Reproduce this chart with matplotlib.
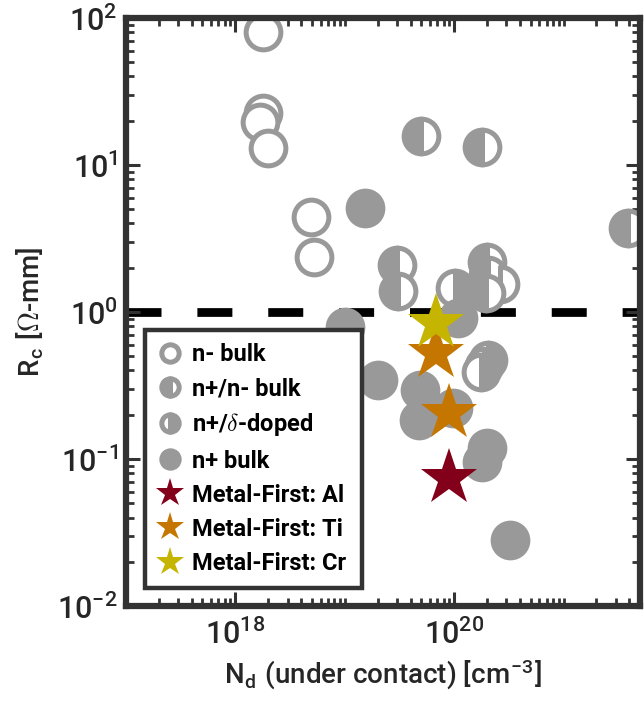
import numpy as np
import matplotlib
matplotlib.use('Agg')
import matplotlib.pyplot as plt
from matplotlib.ticker import FixedLocator, LogLocator, FuncFormatter, NullFormatter

# ---------------- data ----------------
nminus_nd = [1.80e18, 1.78e18, 1.68e18, 1.98e18, 4.95e18, 5.21e18]
nminus_rc = [79.8, 22.4, 19.7, 13.0, 4.42, 2.36]

nplus_nminus_nd = [4.98e19, 1.79e20, 3.86e21, 3.01e19, 3.06e19, 1.98e20, 2.02e20, 2.61e20, 1.95e20]
nplus_nminus_rc = [15.7, 13.2, 3.70, 2.08, 1.39, 2.19, 1.78, 1.55, 1.34]

delta_nd = [1.01e20, 2.05e20, 1.89e20, 1.75e20]
delta_rc = [1.45, 0.475, 0.43, 0.39]

nplus_nd = [1.53e19, 1.01e19, 2.00e19, 4.84e19, 4.75e19, 9.7e19, 1.98e20, 1.78e20, 3.21e20, 1.08e20]
nplus_rc = [5.07, 0.79, 0.343, 0.294, 0.183, 0.221, 0.118, 0.095, 0.028, 0.91]

al_nd = [8.9e19]
al_rc = [0.074]
ti_nd = [6.86e19, 8.9e19]
ti_rc = [0.524, 0.205]
cr_nd = [6.86e19]
cr_rc = [0.84]

threshold = 1.0
x_major = [1e18, 1e20]
labels = ['n- bulk', 'n+/n- bulk', r'n+/$\delta$-doped', 'n+ bulk',
          'Metal-First: Al', 'Metal-First: Ti', 'Metal-First: Cr']

# ---------------- style ----------------
plt.rcParams['font.family'] = ['Roboto', 'DejaVu Sans']
plt.rcParams['mathtext.fontset'] = 'cm'
frame_c = '#333333'
grey = '#999999'

fig = plt.figure(figsize=(6.44, 7.05), dpi=100)
ax = fig.add_axes([0.1957, 0.1404, 0.9938 - 0.1957, 0.9745 - 0.1404])
ax.set_xscale('log')
ax.set_yscale('log')
ax.set_xlim(1e17, 5e21)
ax.set_ylim(1e-2, 1e2)

ax.axhline(threshold, color='black', lw=6.3, dashes=(4.0, 4.1), solid_capstyle='butt',
           dash_capstyle='butt', zorder=1)

circ = dict(linestyle='none', marker='o', ms=25, mew=3.6, mec=grey, zorder=3)
ax.plot(nminus_nd, nminus_rc, mfc='white', label=labels[0], **circ)
ax.plot(nplus_nminus_nd, nplus_nminus_rc, mfc=grey, mfcalt='white', fillstyle='left',
        label=labels[1], **circ)
ax.plot(delta_nd, delta_rc, mfc=grey, mfcalt='white', fillstyle='right',
        label=labels[2], **circ)
ax.plot(nplus_nd, nplus_rc, mfc=grey, label=labels[3], **circ)

star = dict(linestyle='none', marker='*', ms=43, mew=0, zorder=4)
ax.plot(al_nd, al_rc, color='#82001A', label=labels[4], **star)
ax.plot(ti_nd, ti_rc, color='#C57600', label=labels[5], **star)
ax.plot(cr_nd, cr_rc, color='#C5B400', label=labels[6], **star)

# ticks
ax.xaxis.set_major_locator(FixedLocator(x_major))
ax.xaxis.set_minor_locator(LogLocator(base=10, subs=np.arange(1, 10), numticks=50))
ax.yaxis.set_major_locator(LogLocator(base=10, numticks=20))
ax.yaxis.set_minor_locator(LogLocator(base=10, subs=np.arange(2, 10), numticks=50))
fmt = FuncFormatter(lambda v, p: r'$\mathregular{10^{%d}}$' % int(round(np.log10(v))))
ax.xaxis.set_major_formatter(fmt)
ax.yaxis.set_major_formatter(fmt)
ax.xaxis.set_minor_formatter(NullFormatter())
ax.yaxis.set_minor_formatter(NullFormatter())
ax.tick_params(which='both', direction='in', top=True, right=True, color=frame_c,
               labelcolor='#262626', labelsize=22)
ax.tick_params(which='major', length=10, width=2.2)
ax.tick_params(which='minor', length=5.5, width=2.0)
ax.tick_params(axis='x', pad=9)
ax.tick_params(axis='y', pad=6)
for lab in ax.get_xticklabels() + ax.get_yticklabels():
    lab.set_fontweight('medium')
for s in ax.spines.values():
    s.set_linewidth(4.5)
    s.set_color(frame_c)
    s.set_zorder(5)

ax.set_xlabel(r'N$_\mathregular{d}$ (under contact) [cm$^\mathregular{-3}$]', fontsize=20,
              color='#262626', labelpad=6, fontweight='medium')
ax.set_ylabel(r'R$_\mathregular{c}$ [$\Omega$-mm]', fontsize=20, color='#262626', labelpad=8,
              fontweight='medium')

leg = ax.legend(loc='upper left', bbox_to_anchor=(0.037, 0.469, 0.422, 0.0), mode='expand',
                borderaxespad=0,
                prop={'weight': 'bold', 'size': 17}, markerscale=0.5, handlelength=1.05,
                handletextpad=0.38, borderpad=0.55, labelspacing=0.47,
                fancybox=False, framealpha=1, edgecolor=frame_c)
leg.get_frame().set_linewidth(3.2)
leg.set_zorder(10)

fig.savefig('out.png', dpi=100)
